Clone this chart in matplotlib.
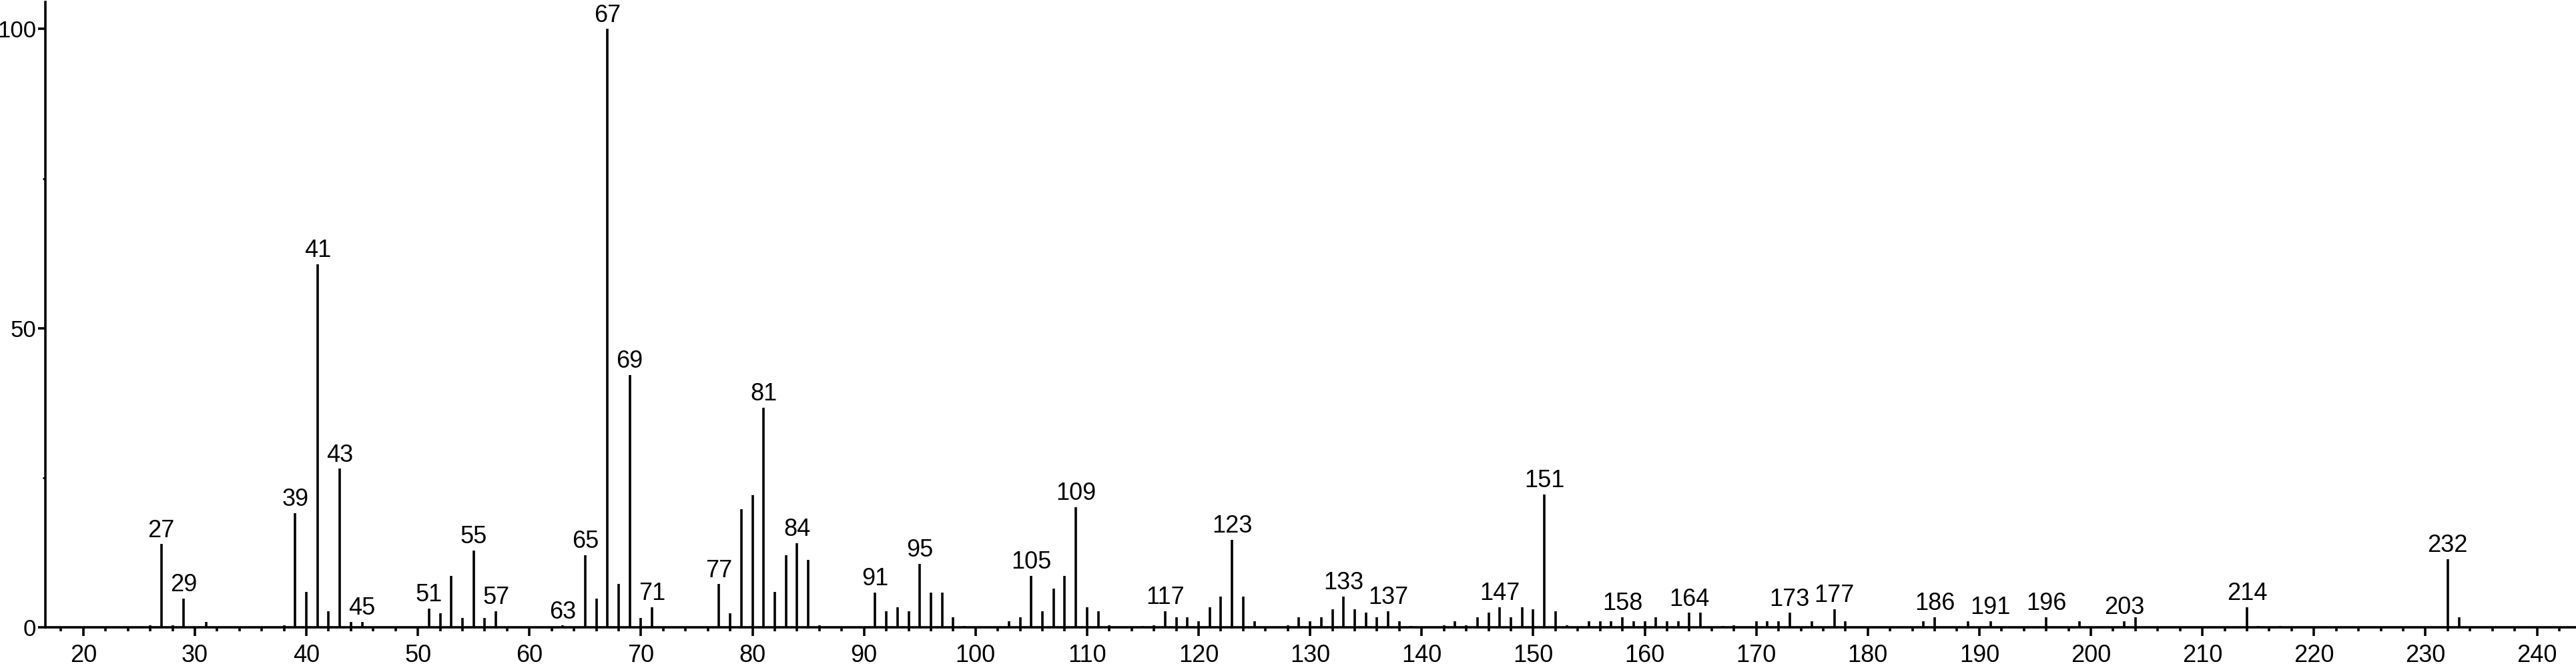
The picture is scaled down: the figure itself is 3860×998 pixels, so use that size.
import numpy as np
import matplotlib
matplotlib.use("Agg")
import matplotlib.pyplot as plt
from matplotlib.ticker import MultipleLocator

plt.rcParams['font.family'] = ['Liberation Sans', 'DejaVu Sans']

# m/z and relative intensity
mz = [26, 27, 28, 29, 31, 38, 39, 40, 41, 42, 43, 44, 45,
      51, 52, 53, 54, 55, 56, 57, 63, 65, 66, 67, 68, 69, 70, 71,
      77, 78, 79, 80, 81, 82, 83, 84, 85, 86,
      91, 92, 93, 94, 95, 96, 97, 98, 99,
      103, 104, 105, 106, 107, 108, 109, 110, 111, 112, 115, 116,
      117, 118, 119, 120, 121, 122, 123, 124, 125, 128, 129, 130,
      131, 132, 133, 134, 135, 136, 137, 138, 139, 142, 143, 144,
      145, 146, 147, 148, 149, 150, 151, 152, 153, 155, 156, 157,
      158, 159, 160, 161, 162, 163, 164, 165, 167, 168, 170, 171,
      172, 173, 175, 177, 178, 185, 186, 189, 191, 196, 199, 203,
      204, 214, 215, 217, 232, 233]
intensity = [0.3, 13.9, 0.3, 4.8, 0.9, 0.3, 19.1, 5.9, 60.7, 2.7, 26.5, 0.9, 0.9,
             3.1, 2.3, 8.6, 1.6, 12.8, 1.6, 2.7, 0.3, 12.1, 4.8, 100, 7.2, 42.2, 1.6, 3.4,
             7.2, 2.3, 19.7, 22.1, 36.7, 5.9, 12.1, 14.1, 11.3, 0.3,
             5.8, 2.7, 3.4, 2.7, 10.6, 5.8, 5.8, 1.7, 0.2,
             1.0, 1.7, 8.6, 2.7, 6.5, 8.6, 20.1, 3.4, 2.7, 0.3, 0.2, 0.3,
             2.7, 1.7, 1.7, 1.0, 3.4, 5.1, 14.6, 5.1, 1.0, 0.3, 1.7, 1.0,
             1.7, 3.0, 5.1, 3.0, 2.4, 1.7, 2.7, 1.0, 0.2, 0.3, 1.0, 0.3,
             1.7, 2.4, 3.4, 1.7, 3.4, 3.0, 22.2, 2.7, 0.3, 1.0, 1.0, 1.0,
             1.7, 1.0, 1.0, 1.7, 1.0, 1.0, 2.4, 2.4, 0.2, 0.3, 1.0, 1.0,
             1.0, 2.4, 1.0, 3.0, 1.0, 1.0, 1.7, 1.0, 1.0, 1.7, 1.0, 1.0,
             1.7, 3.4, 0.2, 0.2, 11.4, 1.7]

# peaks that carry a label
labeled = [27, 29, 39, 41, 43, 45, 51, 55, 57, 63, 65, 67, 69, 71, 77, 81, 84,
           91, 95, 105, 109, 117, 123, 133, 137, 147, 151, 158, 164, 173, 177,
           186, 191, 196, 203, 214, 232]

x_ticks = np.arange(20, 241, 10)
y_ticks = [0, 50, 100]

fig = plt.figure(figsize=(38.6, 9.98), dpi=100)
ax = fig.add_axes([68 / 3860, 58 / 998, 1 - 68 / 3860, 1 - 61 / 998])

ax.vlines(mz, 0, intensity, colors='black', linewidth=2.6)

heights = dict(zip(mz, intensity))
for m in labeled:
    ax.annotate(str(m), (m, heights[m]), xytext=(0, 2), textcoords='offset points',
                ha='center', va='bottom', fontsize=26)

ax.set_xlim(16.6, 243.5)
ax.set_ylim(0, 104.5)

ax.spines['top'].set_visible(False)
ax.spines['right'].set_visible(False)
ax.spines['left'].set_linewidth(2.6)
ax.spines['bottom'].set_linewidth(2.6)

ax.set_xticks(x_ticks)
ax.xaxis.set_minor_locator(MultipleLocator(2))
ax.set_yticks(y_ticks)
ax.yaxis.set_minor_locator(MultipleLocator(25))
ax.tick_params(axis='x', which='major', length=9, width=2.6, labelsize=26, pad=9)
ax.tick_params(axis='x', which='minor', length=4.5, width=2.6)
ax.tick_params(axis='y', which='major', length=8, width=2.6, labelsize=25, pad=2)
ax.tick_params(axis='y', which='minor', length=3, width=2.0)

fig.savefig("out.png", dpi=100)
